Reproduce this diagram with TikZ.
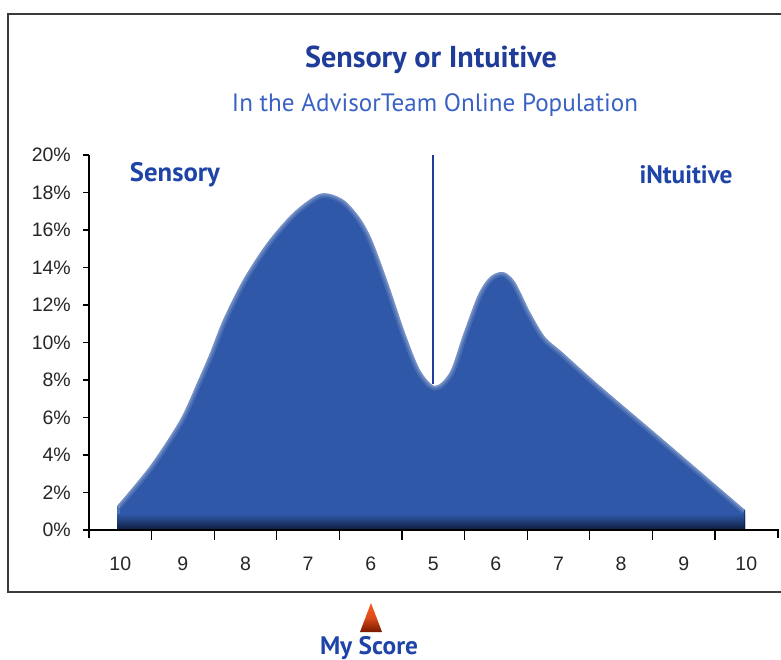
\documentclass[tikz,border=0pt]{standalone}
\usepackage{fontspec}
\setmainfont{Liberation Sans}
\newfontfamily\hum{PT Sans}
\definecolor{titleblue}{HTML}{1F3C99}
\definecolor{subblue}{HTML}{3A62C4}
\definecolor{lblblue}{HTML}{1F44A8}
\definecolor{fillblue}{HTML}{2F58A8}
\definecolor{navy}{HTML}{0A1733}
\definecolor{linecol}{HTML}{1E3C9A}
\definecolor{framegray}{HTML}{3A3A3A}
\definecolor{triTop}{HTML}{FF5A1E}
\definecolor{triBot}{HTML}{7A1800}
\tikzset{
  axisline/.style={line width=1.3pt, black},
  numlbl/.style={font=\fontsize{19.5}{21}\selectfont, text=black!85, inner sep=0pt},
  bluelbl/.style={inner sep=0pt},
}
\def\topcurve{plot[smooth,tension=0.5] coordinates {(117,506) (150,466) (180,420) (197,383) (210,353) (223,320) (243,280) (267,243) (293,213) (317,195) (330,194) (345,201) (360,218) (372,240) (388,283) (405,333) (420,370) (435,386) (450,372) (463,335) (478,295) (490,277) (503,272) (515,282) (530,312) (545,337) (562,352) (600,386) (667,443) (745,510)}}
\edef\shapepath{(117,530) -- \topcurve\space -- (745,530) -- cycle}
\begin{document}
\begin{tikzpicture}[x=1pt,y=-1pt]
\useasboundingbox (0,0) rectangle (781,660);
% frame
\draw[line width=2.5pt, framegray] (781,14) -- (8,14) -- (8,592) -- (781,592);
% titles
\node[bluelbl] (title) at (431,60) {\resizebox{252pt}{!}{\hum\bfseries\color{titleblue}Sensory or Intuitive}};
\node[bluelbl] (subtitle) at (435,105) {\resizebox{406pt}{!}{\hum\color{subblue}In the AdvisorTeam Online Population}};
\node[bluelbl] (sensory) at (175,175) {\resizebox{90pt}{!}{\hum\bfseries\color{lblblue}Sensory}};
\node[bluelbl] (intuitive) at (686,175) {\resizebox{93pt}{!}{\hum\bfseries\color{lblblue}iNtuitive}};
% distribution
\fill[fillblue] \shapepath;
\begin{scope}
  \clip \shapepath;
  \draw[white, opacity=0.12, line width=9pt] \topcurve;
  \draw[white, opacity=0.15, line width=5pt] \topcurve;
  \draw[white, opacity=0.12, line width=2.5pt] \topcurve;
  \draw[white, opacity=0.15, line width=5pt] (117,530) -- (117,506);
  \shade[top color=fillblue, bottom color=navy] (100,514) rectangle (760,531);
  \draw[navy, opacity=0.5, line width=2pt] (745,505) -- (745,530);
\end{scope}
% divider
\draw[linecol, line width=1.5pt] (433,155) -- (433,384);
% axes
\draw[axisline] (89,155) -- (89,538);
\draw[axisline] (83,530) -- (778,530) -- (778,538);
\foreach \k/\lab in {0/0\%,1/2\%,2/4\%,3/6\%,4/8\%,5/10\%,6/12\%,7/14\%,8/16\%,9/18\%,10/20\%}{
  \draw[axisline] (83,530-37.5*\k) -- (89,530-37.5*\k);
  \node[numlbl, anchor=east] (ylab\k) at (71,530-37.5*\k) {\lab};
}
\foreach \k in {1,...,10}{
  \draw[axisline] (89+62.6*\k,530) -- (89+62.6*\k,540);
}
\foreach \lab [count=\k from 0] in {10,9,8,7,6,5,6,7,8,9,10}{
  \node[numlbl] (xlab\k) at (89+62.6*\k+31.3,564) {\lab};
}
% my score marker
\shade[top color=triTop, bottom color=triBot, middle color=triTop!85!black] (371,603) -- (382,632) -- (360,632) -- cycle;
\node[bluelbl] (myscore) at (369,648) {\resizebox{98pt}{!}{\hum\bfseries\color{lblblue}My Score}};
\end{tikzpicture}
\end{document}
